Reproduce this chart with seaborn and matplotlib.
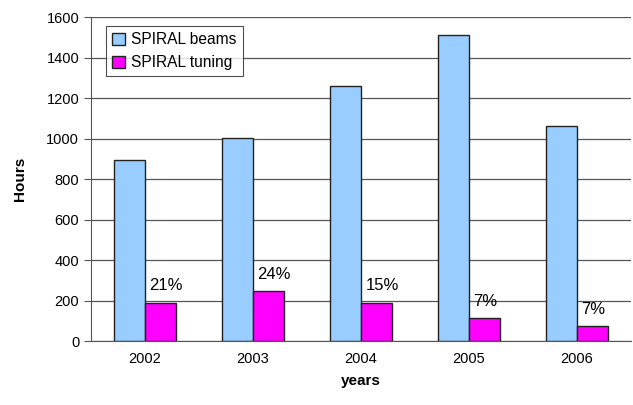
"""SPIRAL beam hours vs tuning hours per year."""

import matplotlib
matplotlib.use("Agg")
import matplotlib.pyplot as plt
import pandas as pd
import seaborn as sns

YEARS = ["2002", "2003", "2004", "2005", "2006"]
BEAMS = [893, 1003, 1260, 1512, 1062]
TUNING = [190, 248, 190, 115, 73]
SHARE = ["21%", "24%", "15%", "7%", "7%"]
SERIES = ["SPIRAL beams", "SPIRAL tuning"]
COLORS = ["#99ccff", "#ff00ff"]


def main() -> None:
    sns.set_style("white")
    plt.rcParams["font.family"] = ["Liberation Sans", "DejaVu Sans"]
    plt.rcParams["text.color"] = "black"
    plt.rcParams["xtick.color"] = "black"
    plt.rcParams["ytick.color"] = "black"
    plt.rcParams["axes.labelcolor"] = "black"

    df = pd.DataFrame({
        "years": YEARS * 2,
        "Hours": BEAMS + TUNING,
        "series": [SERIES[0]] * len(YEARS) + [SERIES[1]] * len(YEARS),
    })

    fig = plt.figure(figsize=(6.33, 4.05), dpi=100)
    ax = fig.add_axes([0.1438, 0.158, 0.853, 0.80])
    sns.barplot(
        data=df, x="years", y="Hours", hue="series", order=YEARS,
        hue_order=SERIES, palette=COLORS, width=0.57, gap=0, saturation=1,
        edgecolor="#222222", linewidth=1.0, ax=ax, legend=True,
    )

    ax.set_ylim(0, 1600)
    ax.set_yticks(range(0, 1601, 200))
    ax.set_xlim(-0.5, len(YEARS) - 0.5)
    ax.yaxis.grid(True, color="#555555", linewidth=0.9)
    ax.set_axisbelow(True)
    for side in ["top", "right"]:
        ax.spines[side].set_visible(False)
    for side in ["left", "bottom"]:
        ax.spines[side].set_color("#555555")

    # category separators on the x axis
    ax.set_xticks([i + 0.5 for i in range(len(YEARS) - 1)], minor=True)
    ax.tick_params(axis="x", which="major", length=0, pad=8, labelsize=10.5)
    ax.tick_params(axis="x", which="minor", length=5, color="#555555", direction="out")
    ax.tick_params(axis="y", length=5, color="#555555", direction="out", labelsize=10.5, left=True)

    ax.set_xlabel("years", fontweight="bold", fontsize=11, labelpad=6)
    ax.set_ylabel("Hours", fontweight="bold", fontsize=11, labelpad=14)

    tuning_bars = ax.containers[1]
    for bar, txt in zip(tuning_bars, SHARE):
        ax.text(bar.get_x() + 0.04, bar.get_height() + 45, txt,
                ha="left", va="bottom", fontsize=12)

    leg = ax.legend(loc="upper left", bbox_to_anchor=(0.028, 0.972),
                    borderaxespad=0, fontsize=11.2, frameon=True, fancybox=False,
                    handlelength=0.8, handleheight=0.8, handletextpad=0.4,
                    borderpad=0.4, labelspacing=0.5, title=None)
    leg.get_frame().set_edgecolor("#222222")
    leg.get_frame().set_linewidth(0.8)

    fig.savefig("out.png", dpi=100)
    plt.close(fig)


if __name__ == "__main__":
    main()
